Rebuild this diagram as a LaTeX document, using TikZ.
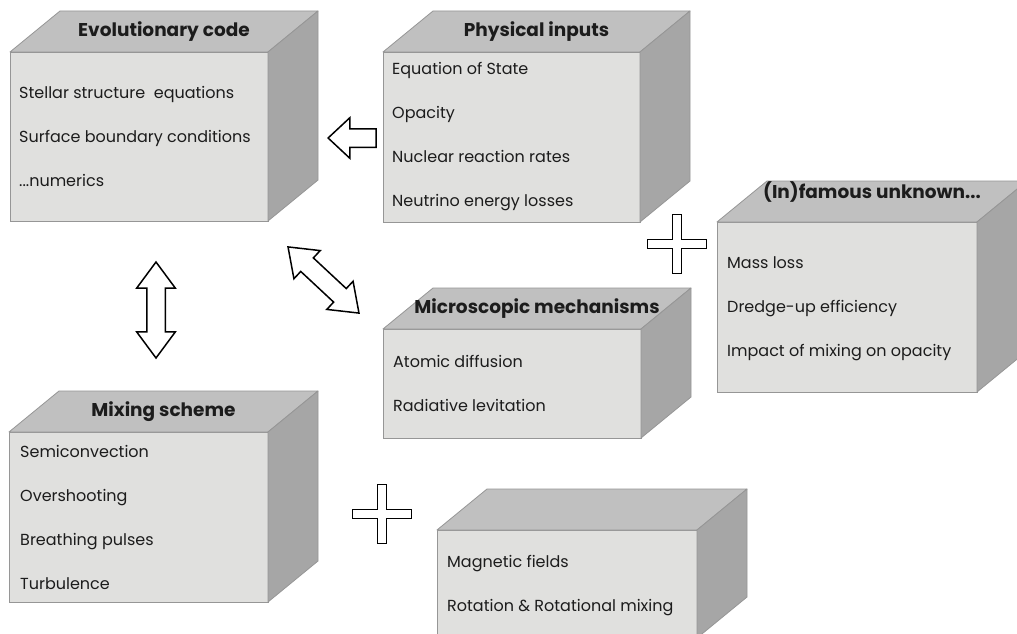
\documentclass[tikz,border=0pt]{standalone}
\usepackage{fontspec}
\setmainfont{Poppins}
\usetikzlibrary{shapes.arrows}

\definecolor{facefront}{RGB}{224,224,222}
\definecolor{facetop}{RGB}{192,192,192}
\definecolor{faceside}{RGB}{166,166,166}
\definecolor{faceedge}{RGB}{150,150,150}
\definecolor{inktext}{RGB}{28,28,28}

\tikzset{
  front/.style={draw=faceedge, fill=facefront, line width=0.8pt, anchor=north west, inner sep=0pt, outer sep=0pt},
  topface/.style={draw=faceedge, fill=facetop, line width=0.8pt, line join=round},
  sideface/.style={draw=faceedge, fill=faceside, line width=0.8pt, line join=round},
  rear/.style={shift={(50,-41)}},
  lid/.style={shift={(25,-20.5)}},
  boxtitle/.style={font=\fontsize{18.5}{22}\selectfont\bfseries, text=inktext, inner sep=0pt},
  items/.style={font=\fontsize{16}{44}\selectfont, text=inktext, align=left, anchor=north west, inner sep=0pt},
  hollow/.style={draw=black, fill=white, line width=1.5pt, inner xsep=0pt, inner ysep=8.5pt, line join=miter},
  pics/plussign/.style={code={
    \draw[hollow, line width=1.3pt] (-4.2,-29.5) -- (4.2,-29.5) -- (4.2,-4.2) -- (29.5,-4.2) -- (29.5,4.2) -- (4.2,4.2)
      -- (4.2,29.5) -- (-4.2,29.5) -- (-4.2,4.2) -- (-29.5,4.2) -- (-29.5,-4.2) -- (-4.2,-4.2) -- cycle;
  }},
}

\begin{document}
\begin{tikzpicture}[x=1pt,y=-1pt]

\fill[white] (0,0) rectangle (1017,634);
\useasboundingbox (0,0) rectangle (1017,634);

% front faces of the boxes
\node[front, minimum width=258pt, minimum height=169pt] (evo) at (10,52) {};
\node[front, minimum width=257pt, minimum height=170pt] (phys) at (383,52) {};
\node[front, minimum width=260pt, minimum height=170pt] (infam) at (717,222) {};
\node[front, minimum width=258pt, minimum height=109pt] (micro) at (383,329) {};
\node[front, minimum width=259pt, minimum height=170pt] (mix) at (9,432) {};
\node[front, minimum width=260pt, minimum height=108pt] (rot) at (437,530) {};

\foreach \b in {evo,phys,infam,micro,mix,rot}{
  \draw[topface] (\b.north west) -- ([rear]\b.north west) -- ([rear]\b.north east) -- (\b.north east) -- cycle;
  \draw[sideface] (\b.north east) -- ([rear]\b.north east) -- ([rear]\b.south east) -- (\b.south east) -- cycle;
}

\node[boxtitle] (evotitle) at ([lid]evo.north) {Evolutionary code};
\node[boxtitle] (physititle) at ([lid]phys.north) {Physical inputs};
\node[boxtitle] (infamtitle) at ([lid,yshift=10pt]infam.north) {(In)famous unknown...};
\node[boxtitle] (microtitle) at ([lid]micro.north) {Microscopic mechanisms};
\node[boxtitle] (mixtitle) at ([lid]mix.north) {Mixing scheme};

\node[items] (evolist) at (19,86) {Stellar structure~ equations\\Surface boundary conditions\\...numerics};
\node[items] (physlist) at (392,62) {Equation of State\\Opacity\\Nuclear reaction rates\\Neutrino energy losses};
\node[items] (infamlist) at (727,256) {Mass loss\\Dredge-up efficiency\\Impact of mixing on opacity};
\node[items] (microlist) at (393,355) {Atomic diffusion\\Radiative levitation};
\node[items] (mixlist) at (20,445) {Semiconvection\\Overshooting\\Breathing pulses\\Turbulence};
\node[items] (rotlist) at (447,555) {Magnetic fields\\Rotation \& Rotational mixing};

% block arrows
\node[single arrow, hollow, minimum height=48pt, single arrow head extend=11pt,
  single arrow tip angle=86, rotate=180, anchor=tip] (physevo) at (327,138) {};
\node[double arrow, hollow, minimum height=96pt, double arrow head extend=10pt,
  double arrow tip angle=73, rotate=90] (evomix) at (156,310) {};
\node[double arrow, hollow, minimum height=97pt, double arrow head extend=10pt,
  double arrow tip angle=73, rotate=-43] (evomicro) at (323.5,280) {};

\pic (plusA) at (677,244) {plussign};
\pic (plusB) at (382,514) {plussign};

\end{tikzpicture}
\end{document}
